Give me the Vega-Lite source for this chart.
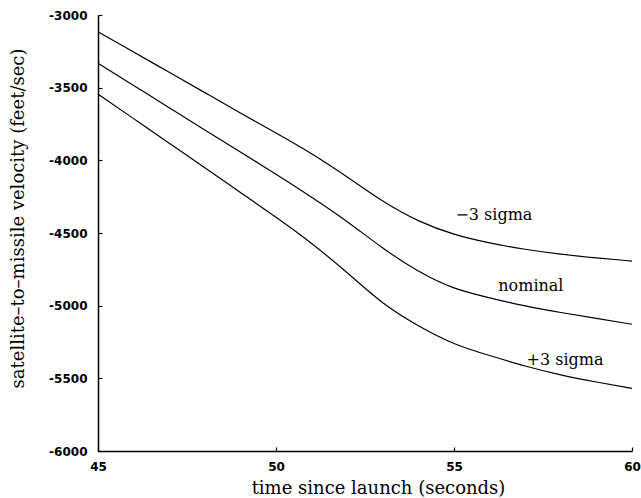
{
  "$schema": "https://vega.github.io/schema/vega-lite/v6.json",
  "width": 534,
  "height": 436,
  "autosize": "none",
  "padding": {"left": 98, "top": 15, "right": 9, "bottom": 47},
  "background": "white",
  "config": {
    "view": {"stroke": null},
    "axis": {
      "grid": false,
      "domainColor": "black",
      "domainWidth": 1.5,
      "tickColor": "black",
      "tickSize": -4,
      "tickWidth": 1.2,
      "labelColor": "black",
      "labelFont": "DejaVu Sans",
      "labelFontWeight": "bold",
      "labelFontSize": 12,
      "titleColor": "black",
      "titleFont": "DejaVu Serif",
      "titleFontWeight": "normal",
      "titleFontSize": 18
    }
  },
  "datasets": {
    "curves": [
      {"t": 45, "v": -3115, "s": "-3 sigma"},
      {"t": 46, "v": -3255, "s": "-3 sigma"},
      {"t": 47, "v": -3394, "s": "-3 sigma"},
      {"t": 48, "v": -3534, "s": "-3 sigma"},
      {"t": 49, "v": -3674, "s": "-3 sigma"},
      {"t": 50, "v": -3812, "s": "-3 sigma"},
      {"t": 51, "v": -3955, "s": "-3 sigma"},
      {"t": 52, "v": -4115, "s": "-3 sigma"},
      {"t": 53, "v": -4280, "s": "-3 sigma"},
      {"t": 54, "v": -4415, "s": "-3 sigma"},
      {"t": 55, "v": -4508, "s": "-3 sigma"},
      {"t": 56, "v": -4568, "s": "-3 sigma"},
      {"t": 57, "v": -4612, "s": "-3 sigma"},
      {"t": 58, "v": -4646, "s": "-3 sigma"},
      {"t": 59, "v": -4671, "s": "-3 sigma"},
      {"t": 60, "v": -4693, "s": "-3 sigma"},
      {"t": 45, "v": -3332, "s": "nominal"},
      {"t": 46, "v": -3485, "s": "nominal"},
      {"t": 47, "v": -3638, "s": "nominal"},
      {"t": 48, "v": -3791, "s": "nominal"},
      {"t": 49, "v": -3943, "s": "nominal"},
      {"t": 50, "v": -4096, "s": "nominal"},
      {"t": 51, "v": -4254, "s": "nominal"},
      {"t": 52, "v": -4422, "s": "nominal"},
      {"t": 53, "v": -4603, "s": "nominal"},
      {"t": 54, "v": -4762, "s": "nominal"},
      {"t": 55, "v": -4878, "s": "nominal"},
      {"t": 56, "v": -4946, "s": "nominal"},
      {"t": 57, "v": -5002, "s": "nominal"},
      {"t": 58, "v": -5047, "s": "nominal"},
      {"t": 59, "v": -5088, "s": "nominal"},
      {"t": 60, "v": -5128, "s": "nominal"},
      {"t": 45, "v": -3544, "s": "+3 sigma"},
      {"t": 46, "v": -3713, "s": "+3 sigma"},
      {"t": 47, "v": -3882, "s": "+3 sigma"},
      {"t": 48, "v": -4051, "s": "+3 sigma"},
      {"t": 49, "v": -4221, "s": "+3 sigma"},
      {"t": 50, "v": -4392, "s": "+3 sigma"},
      {"t": 51, "v": -4572, "s": "+3 sigma"},
      {"t": 52, "v": -4774, "s": "+3 sigma"},
      {"t": 53, "v": -4980, "s": "+3 sigma"},
      {"t": 54, "v": -5138, "s": "+3 sigma"},
      {"t": 55, "v": -5260, "s": "+3 sigma"},
      {"t": 56, "v": -5343, "s": "+3 sigma"},
      {"t": 57, "v": -5415, "s": "+3 sigma"},
      {"t": 58, "v": -5476, "s": "+3 sigma"},
      {"t": 59, "v": -5525, "s": "+3 sigma"},
      {"t": 60, "v": -5569, "s": "+3 sigma"}
    ],
    "labels": [
      {"t": 56.12, "v": -4376, "label": "−3 sigma"},
      {"t": 57.16, "v": -4865, "label": "nominal"},
      {"t": 58.12, "v": -5374, "label": "+3 sigma"}
    ]
  },
  "layer": [
    {
      "data": {"name": "curves"},
      "mark": {"type": "line", "interpolate": "natural", "color": "black", "strokeWidth": 1.2},
      "encoding": {
        "x": {
          "field": "t", "type": "quantitative",
          "scale": {"domain": [45, 60], "nice": false},
          "axis": {"values": [45, 50, 55, 60], "title": "time since launch (seconds)", "labelPadding": 14, "labelFlush": false, "titleX": 280, "titleY": 42, "titleBaseline": "alphabetic", "titleAlign": "center"}
        },
        "y": {
          "field": "v", "type": "quantitative",
          "scale": {"domain": [-6000, -3000], "nice": false, "zero": false},
          "axis": {"values": [-6000, -5500, -5000, -4500, -4000, -3500, -3000], "title": "satellite–to–missile velocity (feet/sec)", "labelPadding": 15, "labelExpr": "'-' + abs(datum.value)", "titleX": -80, "titleY": 203, "titleAngle": -90, "titleAlign": "center", "titleBaseline": "middle"}
        },
        "detail": {"field": "s"}
      }
    },
    {
      "data": {"name": "labels"},
      "mark": {"type": "text", "font": "DejaVu Serif", "fontSize": 16, "color": "black", "align": "center", "baseline": "middle"},
      "encoding": {
        "x": {"field": "t", "type": "quantitative"},
        "y": {"field": "v", "type": "quantitative"},
        "text": {"field": "label"}
      }
    }
  ]
}
